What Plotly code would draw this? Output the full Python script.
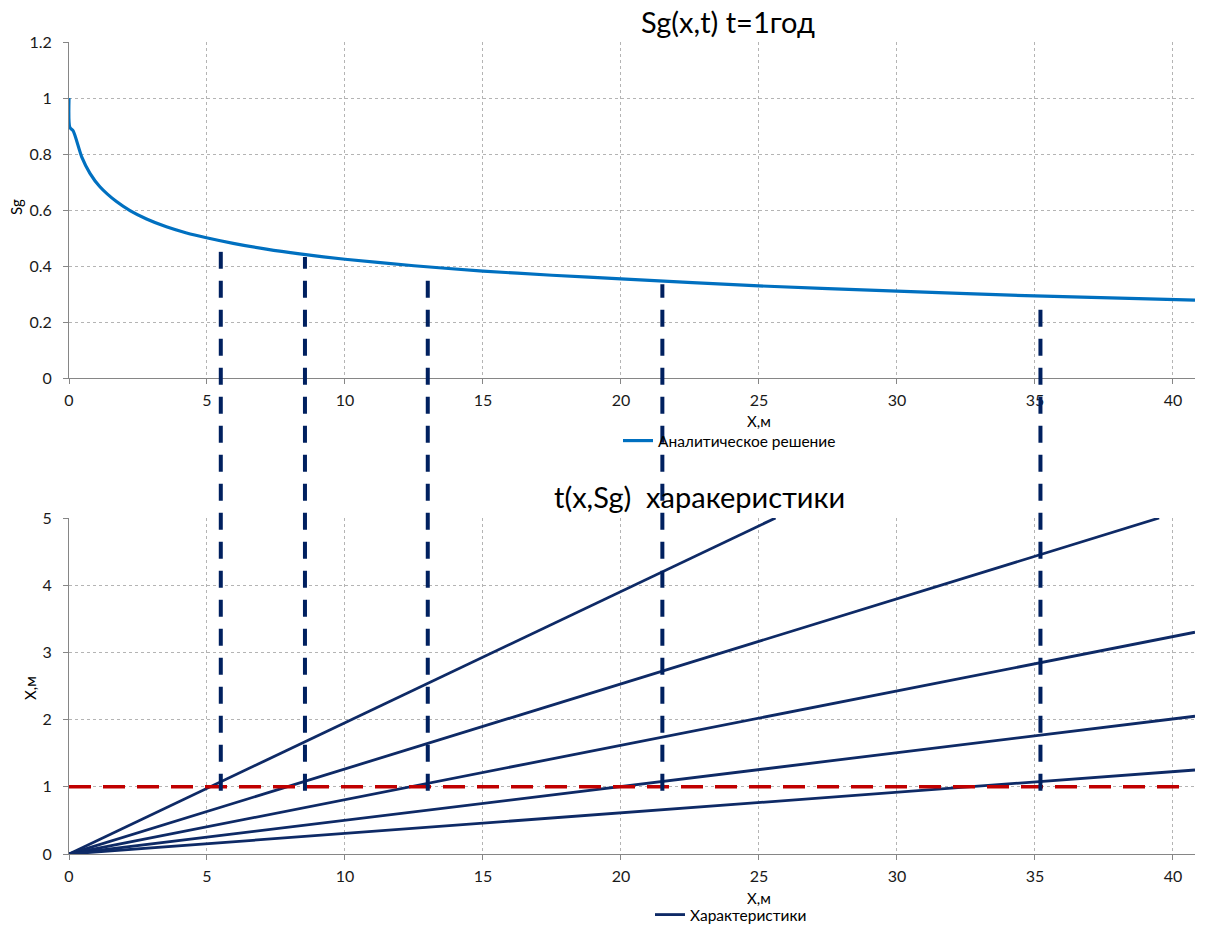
import plotly.graph_objects as go
from plotly.subplots import make_subplots

# ---------------- data ----------------
x_sg = [0, 0.03, 0.15, 0.46, 0.76, 1.12, 1.72, 2.21, 2.81, 3.53, 4.26, 4.98, 5.95,
        7.15, 8.36, 10, 12.5, 15, 17.5, 20, 25, 30, 35, 40.8]
sg = [1.0, 0.895, 0.883, 0.79, 0.731, 0.683, 0.63, 0.598, 0.568, 0.54, 0.518, 0.501, 0.481,
      0.46, 0.443, 0.424, 0.401, 0.382, 0.367, 0.354, 0.329, 0.31, 0.293, 0.278]

char_x_end = [25.6, 39.5, 40.8, 40.8, 40.8]
char_t_end = [5.0, 5.0, 3.3, 2.05, 1.25]

cut_x = [5.5, 8.55, 13.0, 21.5, 35.2]
cut_sg = [0.493, 0.442, 0.397, 0.345, 0.293]
t_level = 1.0
red_x = [0, 40.5]
red_t = [1.0, 1.0]

x_ticks = [0, 5, 10, 15, 20, 25, 30, 35, 40]

# ---------------- layout constants ----------------
W, H = 1206, 925
ML, MR = 69, 11
top_dom = [1 - 378 / H, 1 - 42 / H]
bot_dom = [1 - 854 / H, 1 - 518 / H]
top_range = [0, 1.2]
bot_range = [0, 5]
x_range = [0, 40.8]

FONT = "Lato, 'Open Sans', sans-serif"
AXIS_COL = "#868686"
GRID_COL = "#B4B4B4"

fig = make_subplots(rows=2, cols=1)

fig.add_trace(go.Scatter(x=x_sg, y=sg, mode="lines", name="Аналитическое решение",
                         line=dict(color="#0070C0", width=3.2, shape="spline", smoothing=0.7),
                         legend="legend"), row=1, col=1)

cx, cy = [], []
for xe, te in zip(char_x_end, char_t_end):
    cx += [0, xe, None]
    cy += [0, te, None]
fig.add_trace(go.Scatter(x=cx, y=cy, mode="lines", name="Характеристики",
                         line=dict(color="#0E2A66", width=2.8), legend="legend2"),
              row=2, col=1)

fig.add_trace(go.Scatter(x=red_x, y=red_t, mode="lines", showlegend=False,
                         line=dict(color="#C00000", width=3.5, dash="22px,12px")),
              row=2, col=1)


def top_paper(v):
    return top_dom[0] + (v - top_range[0]) / (top_range[1] - top_range[0]) * (top_dom[1] - top_dom[0])


def bot_paper(v):
    return bot_dom[0] + (v - bot_range[0]) / (bot_range[1] - bot_range[0]) * (bot_dom[1] - bot_dom[0])


for xv, sv in zip(cut_x, cut_sg):
    fig.add_shape(type="line", xref="x", yref="paper", x0=xv, x1=xv,
                  y0=bot_paper(t_level - 0.06), y1=top_paper(sv - 0.01),
                  line=dict(color="#00205F", width=4, dash="17px,12px"), layer="above")

axis_common = dict(showline=True, linecolor=AXIS_COL, linewidth=1,
                   ticks="outside", ticklen=5, tickcolor=AXIS_COL,
                   showgrid=True, gridcolor=GRID_COL, griddash="3px,3px", gridwidth=1,
                   zeroline=False, tickfont=dict(family=FONT, size=16, color="#1a1a1a"),
                   mirror=False)

fig.update_xaxes(range=x_range, tickvals=x_ticks, ticklabelstandoff=3, **axis_common)
fig.update_yaxes(ticklabelstandoff=8, **axis_common)
fig.update_yaxes(range=top_range, dtick=0.2, domain=top_dom, row=1, col=1)
fig.update_yaxes(range=bot_range, dtick=1, domain=bot_dom, row=2, col=1)

annots = [
    dict(text="Sg(x,t) t=1год", x=728, y=22, size=29),
    dict(text="t(x,Sg)  харакеристики", x=699, y=497, size=29),
    dict(text="X,м", x=759, y=421, size=15),
    dict(text="X,м", x=759, y=898, size=15),
]
for a in annots:
    fig.add_annotation(text=a["text"], xref="paper", yref="paper",
                       x=(a["x"] - ML) / (W - ML - MR), y=1 - a["y"] / H,
                       xanchor="center", yanchor="middle", showarrow=False,
                       font=dict(family=FONT, size=a["size"], color="#000000"))
fig.add_annotation(text="Sg", xref="paper", yref="paper", x=(16 - ML) / (W - ML - MR),
                   y=1 - 207 / H, textangle=-90, showarrow=False, xanchor="center", yanchor="middle",
                   font=dict(family=FONT, size=15, color="#000000"))
fig.add_annotation(text="X,м", xref="paper", yref="paper", x=(30 - ML) / (W - ML - MR),
                   y=1 - 688 / H, textangle=-90, showarrow=False, xanchor="center", yanchor="middle",
                   font=dict(family=FONT, size=15, color="#000000"))

fig.update_layout(
    width=W, height=H,
    margin=dict(l=ML, r=MR, t=0, b=0, autoexpand=False),
    plot_bgcolor="white", paper_bgcolor="white",
    legend=dict(x=(618 - ML) / (W - ML - MR), y=1 - 441 / H, xanchor="left", yanchor="middle",
                bgcolor="rgba(0,0,0,0)", font=dict(family=FONT, size=15.5, color="#000000"),
                itemwidth=30, tracegroupgap=0),
    legend2=dict(x=(650 - ML) / (W - ML - MR), y=1 - 915 / H, xanchor="left", yanchor="middle",
                 bgcolor="rgba(0,0,0,0)", font=dict(family=FONT, size=15.5, color="#000000"),
                 itemwidth=30, tracegroupgap=0),
    showlegend=True,
)

fig.write_html("out.html")
